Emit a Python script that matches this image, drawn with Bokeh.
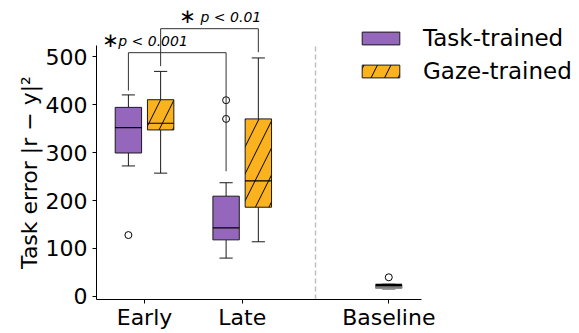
from bokeh.plotting import figure
from bokeh.models import (Range1d, FixedTicker, CustomJSTickFormatter, Legend,
                          LegendItem, ColumnDataSource)
from bokeh.core.properties import value
from bokeh.embed import file_html
from bokeh.resources import INLINE

# ---------------- data ----------------
groups = ["Early", "Late"]
group_x = [0.0, 1.0]
baseline_label = "Baseline"
baseline_x = 2.5
divider_x = 1.75
models = ["Task-trained", "Gaze-trained"]

task_lo = [272, 80]
task_q1 = [299, 118]
task_med = [352, 143]
task_q3 = [394, 209]
task_hi = [420, 237]
task_out_group = [0, 1, 1]
task_out_y = [128, 409, 370]

gaze_lo = [257, 114]
gaze_q1 = [347, 186]
gaze_med = [361, 241]
gaze_q3 = [410, 370]
gaze_hi = [469, 497]

base_lo = [15]
base_q1 = [17]
base_med = [24]
base_q3 = [24.5]
base_hi = [26]
base_out_y = [40]

sig_labels = ["p < 0.001", "p < 0.01"]
sig_model = [0, 1]          # bracket joins Early & Late of this model
sig_y = [508, 558]
sig_left_end = [429, 480]
sig_right_end = [261, 509]

y_ticks = [0, 100, 200, 300, 400, 500]

# ---------------- layout / style constants ----------------
FONT = "DejaVu Sans"
PURPLE = "#9467bd"
ORANGE = "#fbb21f"
EDGE = "#1a1a1a"
OFF = 0.165
BW = 0.27
CAP = BW / 2
# the frame covers the whole canvas; axes are pinned with fixed_location
X0, X1 = -1.474, 4.452
Y0, Y1 = -77.1, 616.7
AX_X0, AX_X1 = -0.491, 2.835
AX_Y0, AX_Y1 = -6.25, 523

p = figure(width=579, height=333, x_range=Range1d(X0, X1), y_range=Range1d(Y0, Y1),
           output_backend="svg", toolbar_location=None,
           min_border_left=0, min_border_right=0, min_border_top=0, min_border_bottom=0)
p.outline_line_color = None
p.grid.visible = False
p.background_fill_color = "white"

for ax in (p.xaxis[0], p.yaxis[0]):
    ax.axis_line_color = "black"
    ax.axis_line_width = 1
    ax.major_tick_line_color = "black"
    ax.major_tick_out = 4
    ax.major_tick_in = 0
    ax.minor_tick_line_color = None
    ax.major_label_text_font = FONT
    ax.major_label_text_font_size = "22px"
    ax.major_label_text_color = "black"
p.xaxis.major_label_standoff = 2
p.yaxis.major_label_standoff = 5
p.xaxis.fixed_location = AX_Y0
p.yaxis.fixed_location = AX_X0
p.xaxis.bounds = (AX_X0, AX_X1)
p.yaxis.bounds = (AX_Y0, AX_Y1)
p.yaxis.ticker = FixedTicker(ticks=y_ticks)
tick_pos = group_x + [baseline_x]
tick_lab = groups + [baseline_label]
p.xaxis.ticker = FixedTicker(ticks=tick_pos)
p.xaxis.formatter = CustomJSTickFormatter(
    args=dict(pos=tick_pos, lab=tick_lab),
    code="const i = pos.indexOf(tick); return i >= 0 ? lab[i] : '';")
p.yaxis.axis_label = "Task error |r − y|²"
p.yaxis.axis_label_text_font = FONT
p.yaxis.axis_label_text_font_size = "22px"
p.yaxis.axis_label_text_font_style = "normal"
p.yaxis.axis_label_text_color = "black"
p.yaxis.axis_label_standoff = 1

# divider
p.segment(x0=[divider_x], y0=[AX_Y0], x1=[divider_x], y1=[AX_Y1],
          line_color="#c0c0c0", line_width=1.5, line_dash="5 3")


def boxes(xs, lo, q1, med, q3, hi, fill, hatch=None, line=EDGE, med_w=1.2):
    src = ColumnDataSource(dict(x=xs, lo=lo, q1=q1, med=med, q3=q3, hi=hi,
                                xl=[x - CAP / 2 for x in xs], xr=[x + CAP / 2 for x in xs],
                                bl=[x - BW / 2 for x in xs], br=[x + BW / 2 for x in xs]))
    p.segment(x0="x", y0="lo", x1="x", y1="q1", source=src, line_color=line, line_width=1)
    p.segment(x0="x", y0="q3", x1="x", y1="hi", source=src, line_color=line, line_width=1)
    p.segment(x0="xl", y0="lo", x1="xr", y1="lo", source=src, line_color=line, line_width=1)
    p.segment(x0="xl", y0="hi", x1="xr", y1="hi", source=src, line_color=line, line_width=1)
    kw = dict(hatch_pattern=hatch, hatch_color="black", hatch_scale=27, hatch_weight=1) if hatch else {}
    r = p.vbar(x="x", width=BW, bottom="q1", top="q3", source=src, fill_color=fill,
               line_color=line, line_width=1, **kw)
    p.segment(x0="bl", y0="med", x1="br", y1="med", source=src, line_color="black", line_width=med_w)
    return r


task_r = boxes([g - OFF for g in group_x], task_lo, task_q1, task_med, task_q3, task_hi, PURPLE)
gaze_r = boxes([g + OFF for g in group_x], gaze_lo, gaze_q1, gaze_med, gaze_q3, gaze_hi, ORANGE, hatch="/")
boxes([baseline_x], base_lo, base_q1, base_med, base_q3, base_hi, "#7f7f7f", line="#7f7f7f", med_w=2.5)

# outliers
p.scatter(x=[group_x[g] - OFF for g in task_out_group], y=task_out_y, size=7, marker="circle",
          fill_color=None, line_color="black", line_width=1)
p.scatter(x=[baseline_x] * len(base_out_y), y=base_out_y, size=7, marker="circle",
          fill_color=None, line_color="black", line_width=1)

# significance brackets
offs = [-OFF, OFF]
bx_l = [group_x[0] + offs[m] for m in sig_model]
bx_r = [group_x[1] + offs[m] for m in sig_model]
p.segment(x0=bx_l, y0=sig_y, x1=bx_r, y1=sig_y, line_color="#333333", line_width=1)
p.segment(x0=bx_l, y0=sig_left_end, x1=bx_l, y1=sig_y, line_color="#333333", line_width=1)
p.segment(x0=bx_r, y0=sig_right_end, x1=bx_r, y1=sig_y, line_color="#333333", line_width=1)

star_dx = [-0.183, 0.277]
text_dx = [-0.104, 0.408]
TEXT_DY = 24.5
STAR_DY = 27
p.text(x=[b + d for b, d in zip(bx_l, star_dx)], y=[y + STAR_DY for y in sig_y],
       text=["∗"] * len(sig_y), text_font=value(FONT), text_font_size="20px",
       text_align="center", text_baseline="middle", text_color="black")
p.text(x=[b + d for b, d in zip(bx_l, text_dx)], y=[y + TEXT_DY for y in sig_y],
       text=sig_labels, text_font=value(FONT), text_font_size="14px", text_font_style="italic",
       text_align="left", text_baseline="middle", text_color="black")

# legend
legend = Legend(items=[LegendItem(label=models[0], renderers=[task_r]),
                       LegendItem(label=models[1], renderers=[gaze_r])],
                location=(357, 249), orientation="vertical",
                glyph_width=47, glyph_height=16, label_height=16, spacing=7,
                label_standoff=19, padding=0, margin=0,
                label_text_font=FONT, label_text_font_size="23px", label_text_color="black",
                border_line_color=None, background_fill_alpha=0)
p.add_layout(legend)

open("out.html", "w").write(file_html(p, INLINE))
